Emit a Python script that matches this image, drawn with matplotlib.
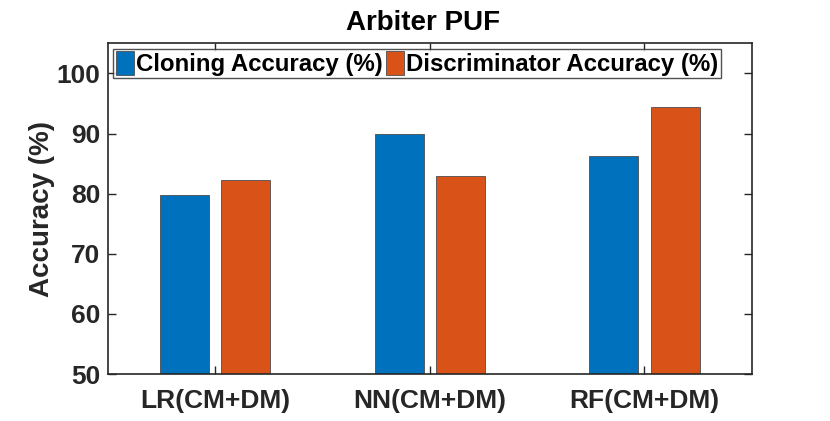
import matplotlib
matplotlib.use("Agg")
import matplotlib.pyplot as plt
import numpy as np

plt.rcParams['font.family'] = ['Liberation Sans', 'DejaVu Sans']
plt.rcParams['font.weight'] = 'bold'

# data
models = ["LR(CM+DM)", "NN(CM+DM)", "RF(CM+DM)"]
cloning_acc = [79.7, 90.0, 86.2]
discrim_acc = [82.2, 82.9, 94.4]
series_names = ["Cloning Accuracy (%)", "Discriminator Accuracy (%)"]

blue = '#0072BD'
orange = '#D95319'
axcol = '#262626'

fig = plt.figure(figsize=(8.3, 4.21), dpi=100)
ax = fig.add_axes([0.1298, 0.1116, 0.7759, 0.7855])

x = np.arange(1, len(models) + 1)
w = 0.2286
off = 0.1429
ax.bar(x - off, cloning_acc, w, color=blue, edgecolor='#4d4d4d', linewidth=0.6,
       label=series_names[0])
ax.bar(x + off, discrim_acc, w, color=orange, edgecolor='#4d4d4d', linewidth=0.6,
       label=series_names[1])

ax.set_xlim(0.5, 3.5)
ax.set_ylim(50, 105)
ax.set_xticks(x)
ax.set_xticklabels(models)
ax.set_yticks([50, 60, 70, 80, 90, 100])

for s in ax.spines.values():
    s.set_color(axcol)
    s.set_linewidth(1.2)
ax.tick_params(direction='in', length=6, width=1.0, color=axcol,
               top=True, right=True, labelsize=19, labelcolor=axcol)
ax.tick_params(axis='x', pad=11)
ax.tick_params(axis='y', pad=5.5)
for lab in ax.get_xticklabels() + ax.get_yticklabels():
    lab.set_fontweight('bold')

ax.set_ylabel("Accuracy (%)", fontsize=20, fontweight='bold', color=axcol, labelpad=1)
ax.set_title("Arbiter PUF", fontsize=20, fontweight='bold', color='black', pad=9.5, x=0.49)

leg = ax.legend(loc='upper left', ncol=2, fontsize=17.3, frameon=True, fancybox=False,
                handlelength=0.77, handleheight=1.12, handletextpad=0.08,
                columnspacing=0.12, borderpad=0.1, borderaxespad=0.23)
leg.get_frame().set_edgecolor(axcol)
leg.get_frame().set_linewidth(1.0)
for t in leg.get_texts():
    t.set_fontweight('bold')

fig.savefig("out.png", dpi=100)
